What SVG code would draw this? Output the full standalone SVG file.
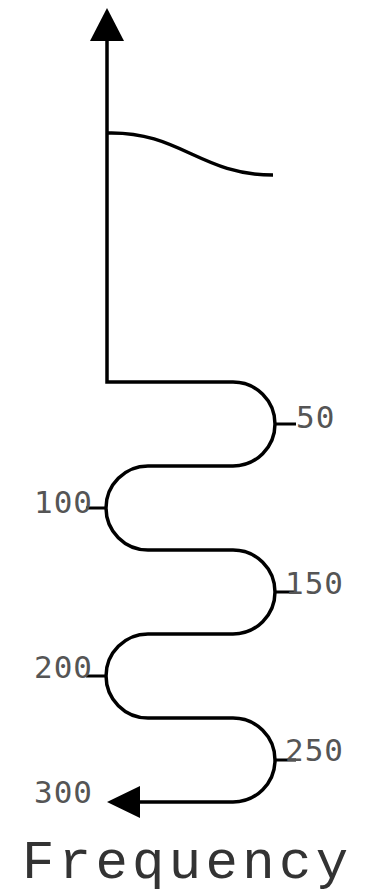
<svg xmlns="http://www.w3.org/2000/svg" width="368" height="896" viewBox="0 0 368 896">
<style>
.ln{fill:none;stroke:#000;stroke-width:3.5;}
.tk{fill:none;stroke:#000;stroke-width:3;}
.lb{font-family:"DejaVu Sans Mono",monospace;font-size:31px;letter-spacing:1px;fill:#555;}
.ttl{font-family:"Liberation Mono",monospace;font-size:54px;letter-spacing:4.3px;fill:#333;}
</style>
<g id="connectors">
<path class="ln" d="M107,40 V382 H233 A42,42 0 0 1 233,466 H148 A42,42 0 0 0 148,550 H233 A42,42 0 0 1 233,634 H148 A42,42 0 0 0 148,718 H233 A42,42 0 0 1 233,802 H136"/>
<polygon points="107,8 90,41 124,41" fill="#000"/>
<polygon points="107,802 140,786 140,818" fill="#000"/>
</g>
<g id="curve">
<path class="ln" d="M107,133 C180,131 200,175 273,175"/>
</g>
<g id="ticks">
<path class="tk" d="M275,424 H296 M275,592 H296 M275,760 H296 M86,508 H106 M86,676 H106"/>
</g>
<g id="labels">
<text class="lb" x="296" y="428">50</text>
<text class="lb" x="34" y="513">100</text>
<text class="lb" x="285" y="594">150</text>
<text class="lb" x="34" y="678">200</text>
<text class="lb" x="285" y="761">250</text>
<text class="lb" x="34" y="803">300</text>
</g>
<g id="title">
<text class="ttl" x="22" y="878">Frequency</text>
</g>
</svg>
